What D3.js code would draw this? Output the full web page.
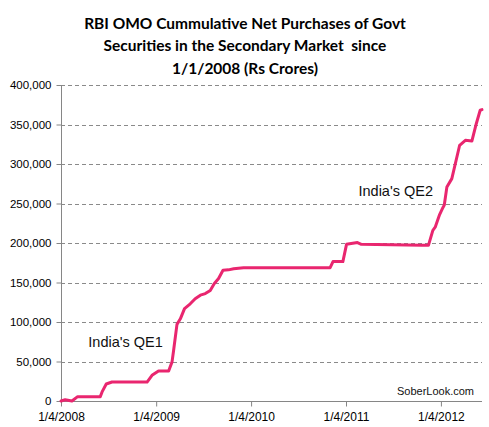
<!DOCTYPE html>
<html>
<head>
<meta charset="utf-8">
<script src="https://cdn.jsdelivr.net/npm/d3@7"></script>
<style>
	body { margin: 0; background: #fff; }
	svg { display: block; }
</style>
</head>
<body>
<div id="chart"></div>
<script>

// weekly-ish readings of the cumulative net purchases (Rs crores)
var dates = [
	"2008-01-04", "2008-01-20", "2008-02-15", "2008-03-08", "2008-06-03", "2008-06-10",
	"2008-06-26", "2008-07-18", "2008-11-30", "2008-12-19", "2009-01-13", "2009-02-21",
	"2009-03-06", "2009-03-12", "2009-03-25", "2009-04-07", "2009-04-23", "2009-05-15",
	"2009-06-03", "2009-06-23", "2009-07-12", "2009-07-31", "2009-08-15", "2009-09-01",
	"2009-09-18", "2009-10-09", "2009-10-29", "2009-12-06", "2010-11-04", "2010-11-15",
	"2010-12-23", "2011-01-06", "2011-02-17", "2011-03-04", "2011-10-23", "2011-11-17",
	"2011-12-04", "2011-12-13", "2011-12-30", "2012-01-12", "2012-01-17", "2012-01-27",
	"2012-02-15", "2012-03-16", "2012-04-07", "2012-05-02", "2012-05-19", "2012-06-03",
	"2012-06-10"
];

var values = [
	0, 1500, 0, 5500, 5500, 11500,
	21500, 24000, 24000, 32500, 38000, 38000,
	49500, 64000, 97000, 104000, 117000, 123000,
	129500, 134000, 136000, 140000, 148500, 155000,
	165500, 166000, 167500, 168800, 168800, 176500,
	176500, 198300, 200500, 198300, 197000, 197000,
	216000, 220000, 236000, 245000, 248000, 271000,
	281500, 323700, 330000, 329000, 351000, 368000,
	368800
];

var xTickDates = ["2008-01-04", "2009-01-04", "2010-01-04", "2011-01-04", "2012-01-04"];
var yTicks = [0, 50000, 100000, 150000, 200000, 250000, 300000, 350000, 400000];

var titleLines = [
	"RBI OMO Cummulative Net Purchases of Govt",
	"Securities in the Secondary Market  since",
	"1/1/2008 (Rs Crores)"
];

var notes = [
	{ text: "India's QE1", date: "2008-04-18", value: 68000 },
	{ text: "India's QE2", date: "2011-02-21", value: 260000 }
];

var parse = d3.timeParse("%Y-%m-%d");

var dims = {
	width: 489,
	height: 427,
	left: 61,
	right: 482,
	top: 85,
	bottom: 401
};

var x = d3.scaleTime()
	.domain([parse(dates[0]), parse(dates[dates.length - 1])])
	.range([dims.left, dims.right]);

var y = d3.scaleLinear()
	.domain([0, 400000])
	.range([dims.bottom, dims.top]);

var svg = d3.select("#chart")
	.append("svg")
	.attr("width", dims.width)
	.attr("height", dims.height);

// title
svg.append("g")
	.attr("class", "title")
	.selectAll("text")
	.data(titleLines)
	.enter()
	.append("text")
		.attr("x", 245)
		.attr("y", function(d, i) { return 28.5 + i * 22.5; })
		.attr("text-anchor", "middle")
		.style("font-family", "Lato, 'Open Sans', sans-serif")
		.style("font-size", "15.5px")
		.style("font-weight", "bold")
		.style("fill", "#000")
		.style("white-space", "pre")
		.text(function(d) { return d; });

// gridlines
svg.append("g")
	.attr("class", "grid")
	.selectAll("line")
	.data(yTicks.filter(function(d) { return d > 0; }))
	.enter()
	.append("line")
		.attr("x1", dims.left)
		.attr("x2", dims.right)
		.attr("y1", function(d) { return Math.round(y(d)) + 0.5; })
		.attr("y2", function(d) { return Math.round(y(d)) + 0.5; })
		.attr("stroke", "#8a8a8a")
		.attr("stroke-dasharray", "4,3");

// y axis
var yAxis = d3.axisLeft(y)
	.tickValues(yTicks)
	.tickSize(5)
	.tickPadding(5)
	.tickFormat(d3.format(","));

var yG = svg.append("g")
	.attr("transform", "translate(" + (dims.left + 0.5) + ",0)")
	.call(yAxis);

// x axis
var xAxis = d3.axisBottom(x)
	.tickValues(xTickDates.map(parse))
	.tickSize(5)
	.tickPadding(6)
	.tickFormat(d3.timeFormat("%-m/%-d/%Y"));

var xG = svg.append("g")
	.attr("transform", "translate(0," + (dims.bottom + 0.5) + ")")
	.call(xAxis);

[yG, xG].forEach(function(g) {
	g.select(".domain").attr("stroke", "#868686");
	g.selectAll(".tick line").attr("stroke", "#868686");
	g.selectAll(".tick text")
		.style("font-family", "'Liberation Sans', Arial, sans-serif")
		.style("fill", "#000");
});
yG.selectAll(".tick text").style("font-size", "11.5px");
xG.selectAll(".tick text").style("font-size", "12px");
yG.select(".domain").attr("d", "M0," + dims.bottom + "V" + dims.top);
xG.select(".domain").attr("d", "M" + dims.left + ",0H" + dims.right);

// the series
var line = d3.line()
	.x(function(d, i) { return x(parse(dates[i])); })
	.y(function(d) { return y(d); });

svg.append("path")
	.datum(values)
	.attr("d", line)
	.attr("fill", "none")
	.attr("stroke", "#E9266F")
	.attr("stroke-width", 3)
	.attr("stroke-linejoin", "round")
	.attr("stroke-linecap", "round");

// annotations
svg.append("g")
	.selectAll("text")
	.data(notes)
	.enter()
	.append("text")
		.attr("x", function(d) { return x(parse(d.date)); })
		.attr("y", function(d) { return y(d.value); })
		.style("font-family", "'Liberation Sans', Arial, sans-serif")
		.style("font-size", "14.5px")
		.style("fill", "#111")
		.text(function(d) { return d.text; });

svg.append("text")
	.attr("x", 474)
	.attr("y", 394.5)
	.attr("text-anchor", "end")
	.style("font-family", "'Liberation Sans', Arial, sans-serif")
	.style("font-size", "11px")
	.style("fill", "#111")
	.text("SoberLook.com");

</script>
</body>
</html>
